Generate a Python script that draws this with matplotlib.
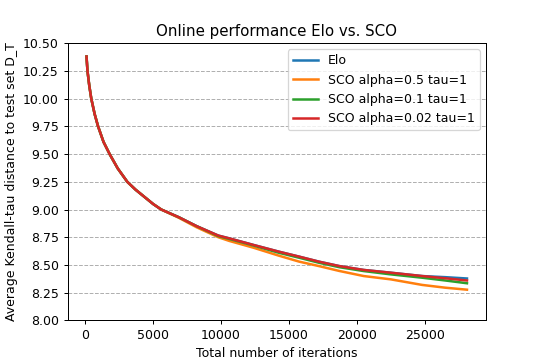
import numpy as np
from matplotlib import pyplot as plt

# iterations at which the distance was evaluated
iters = [100, 170, 300, 450, 700, 950, 1350, 1800, 2400, 3100, 3700, 4300, 5000, 5600,
         6900, 8200, 9800, 10600, 12400, 14250, 15750, 17200, 18700, 20500, 22500,
         24800, 26500, 28100]

elo = [10.38, 10.25, 10.12, 10.0, 9.86, 9.75, 9.61, 9.5, 9.37, 9.25, 9.18, 9.12, 9.05, 9.0,
       8.93, 8.85, 8.765, 8.74, 8.68, 8.62, 8.575, 8.53, 8.49, 8.455, 8.43,
       8.40, 8.39, 8.378]
sco_05 = [10.38, 10.25, 10.12, 10.0, 9.86, 9.75, 9.61, 9.5, 9.37, 9.25, 9.18, 9.12, 9.05, 9.0,
          8.925, 8.84, 8.75, 8.717, 8.655, 8.584, 8.53, 8.49, 8.446, 8.40, 8.37,
          8.32, 8.295, 8.277]
sco_01 = [10.38, 10.25, 10.12, 10.0, 9.86, 9.75, 9.61, 9.5, 9.37, 9.25, 9.18, 9.12, 9.05, 9.0,
          8.93, 8.85, 8.76, 8.735, 8.675, 8.61, 8.565, 8.52, 8.48, 8.445, 8.415,
          8.385, 8.36, 8.335]
sco_002 = [10.38, 10.25, 10.12, 10.0, 9.86, 9.75, 9.61, 9.5, 9.37, 9.25, 9.18, 9.12, 9.05, 9.0,
           8.93, 8.85, 8.765, 8.74, 8.68, 8.62, 8.575, 8.53, 8.49, 8.455, 8.43,
           8.40, 8.38, 8.36]

labels = ["Elo", "SCO alpha=0.5 tau=1", "SCO alpha=0.1 tau=1", "SCO alpha=0.02 tau=1"]

fig, ax = plt.subplots(figsize=(6, 4), dpi=90)
for ys, lab in zip([elo, sco_05, sco_01, sco_002], labels):
    ax.plot(iters, ys, label=lab, lw=2)

ax.set_ylim(8.0, 10.5)
ax.set_yticks(np.arange(8.0, 10.51, 0.25))
ax.yaxis.grid(True, linestyle="--", color="#b0b0b0")
ax.set_title("Online performance Elo vs. SCO")
ax.set_xlabel("Total number of iterations")
ax.set_ylabel("Average Kendall-tau distance to test set D_T")
ax.legend(loc="upper right")

fig.savefig("out.png")
